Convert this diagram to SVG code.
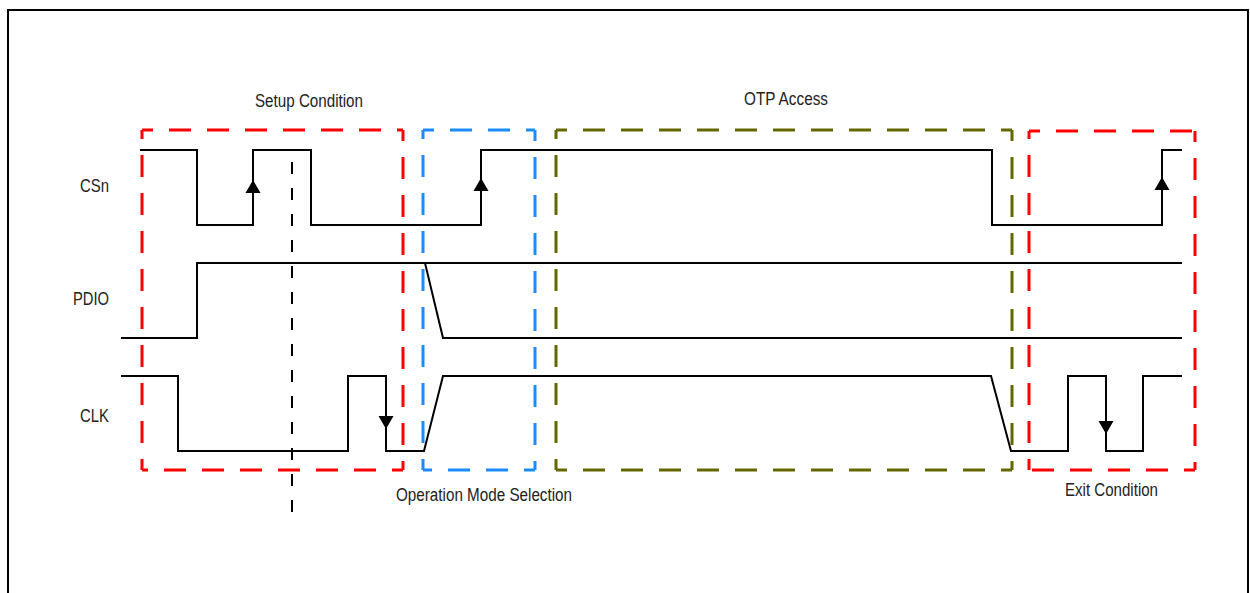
<svg xmlns="http://www.w3.org/2000/svg" width="1250" height="593" viewBox="0 0 1250 593">
<style>
.lbl{font-family:"Liberation Sans",Arial,sans-serif;font-size:18px;fill:#222}
.sig{fill:none;stroke:#000;stroke-width:2}
.box{fill:none;stroke-width:3;stroke-dasharray:22 16;stroke-dashoffset:11}
.red{stroke:#ff0000}
.blue{stroke:#1a8cff}
.olive{stroke:#666600}
.arr{fill:#000}
</style>
<defs>
<path id="up" d="M0,0 L-7.5,13 L7.5,13 Z"/>
<path id="down" d="M0,0 L-7.5,-13 L7.5,-13 Z"/>
</defs>
<rect x="8" y="10" width="1240" height="600" fill="#fff" stroke="#000" stroke-width="2"/>

<g id="setup-box" class="box red">
<path d="M142,130 H403"/><path d="M403,130 V470"/><path d="M403,470 H142"/><path d="M142,470 V130"/>
</g>
<g id="opmode-box" class="box blue">
<path d="M423,130 H535"/><path d="M535,130 V470"/><path d="M535,470 H423"/><path d="M423,470 V130"/>
</g>
<g id="otp-box" class="box olive">
<path d="M556,130 H1012"/><path d="M1012,130 V470"/><path d="M1012,470 H556"/><path d="M556,470 V130"/>
</g>
<g id="exit-box" class="box red">
<path d="M1029,131 H1195"/><path d="M1195,131 V470"/><path d="M1195,470 H1029"/><path d="M1029,470 V131"/>
</g>

<g id="labels">
<text class="lbl" x="255" y="107" textLength="108" lengthAdjust="spacingAndGlyphs">Setup Condition</text>
<text class="lbl" x="744" y="105" textLength="84" lengthAdjust="spacingAndGlyphs">OTP Access</text>
<text class="lbl" x="396" y="501" textLength="176" lengthAdjust="spacingAndGlyphs">Operation Mode Selection</text>
<text class="lbl" x="1065" y="496" textLength="93" lengthAdjust="spacingAndGlyphs">Exit Condition</text>
<text class="lbl" x="80" y="192" textLength="29" lengthAdjust="spacingAndGlyphs">CSn</text>
<text class="lbl" x="73" y="305" textLength="36" lengthAdjust="spacingAndGlyphs">PDIO</text>
<text class="lbl" x="80" y="422" textLength="29" lengthAdjust="spacingAndGlyphs">CLK</text>
</g>

<g id="connectors">
<g id="CSn">
<path class="sig" d="M140,150 H197 V225 H253 V150 H311 V225 H481 V150 H992 V225 H1162 V150 H1182"/>
<use href="#up" x="253" y="180" class="arr"/>
<use href="#up" x="481" y="178" class="arr"/>
<use href="#up" x="1162" y="177" class="arr"/>
</g>
<g id="PDIO">
<path class="sig" d="M121,338 H197 V263 H1182"/>
<path class="sig" d="M425,263 L443,338 H1182"/>
</g>
<g id="CLK">
<path class="sig" d="M121,376 H178 V451 H348 V376 H386 V451 H424 L443,376 H991 L1011,451 H1068 V376 H1106 V451 H1143 V376 H1182"/>
<use href="#down" x="386" y="429" class="arr"/>
<use href="#down" x="1106" y="434" class="arr"/>
</g>
<path id="marker-line" d="M292,162 V520" fill="none" stroke="#000" stroke-width="2" stroke-dasharray="12 14"/>
</g>
</svg>
